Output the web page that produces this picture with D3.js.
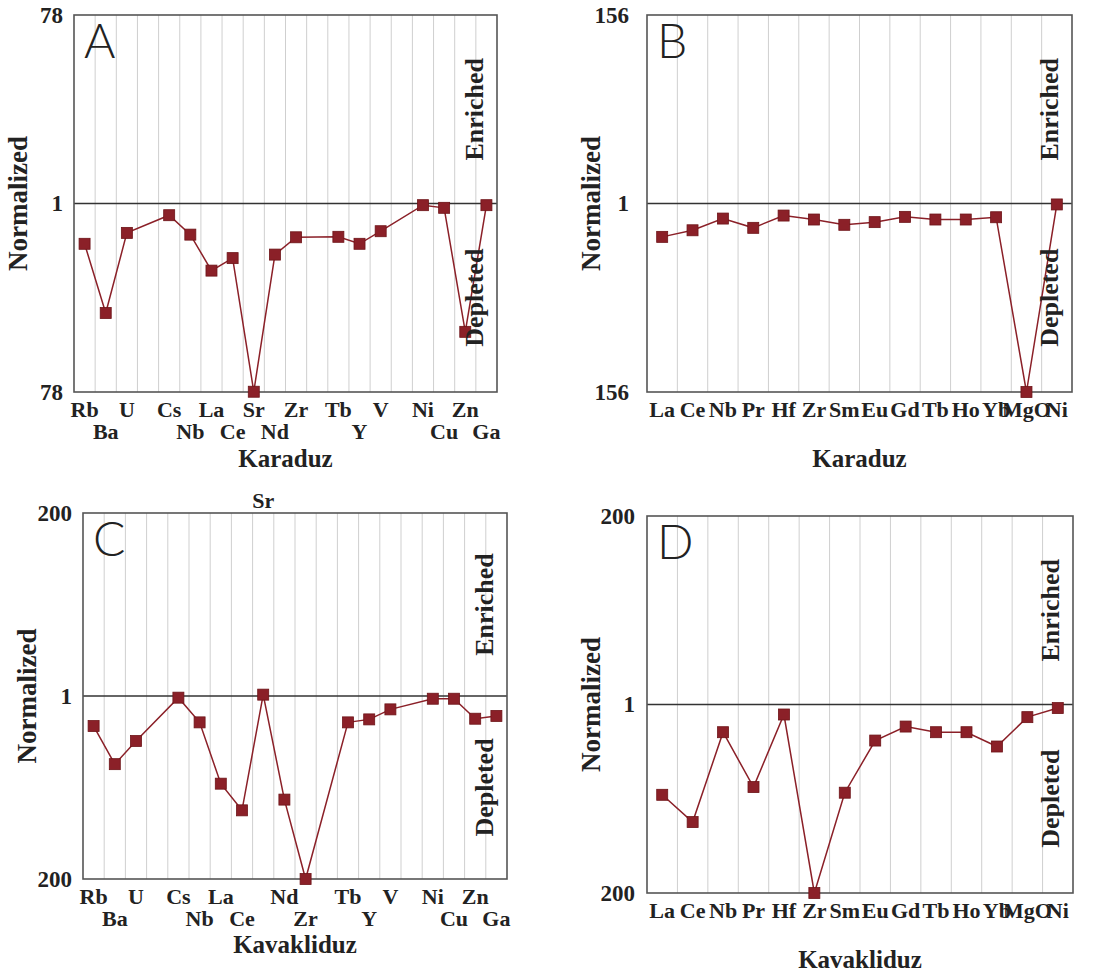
<!DOCTYPE html>
<html>
<head>
<meta charset="utf-8">
<script src="https://cdn.jsdelivr.net/npm/d3@7"></script>
<style>
  body { margin: 0; background: #fff; }
  svg text { font-family: "Liberation Serif", "Times New Roman", serif; font-weight: bold; fill: #222; }
</style>
</head>
<body>
<svg id="chart" width="1110" height="979"></svg>
<script>
'use strict';

// Trace element slots (gaps are empty grid columns)
const traceSlots = ['Rb', 'Ba', 'U', '_g1', 'Cs', 'Nb', 'La', 'Ce', 'Sr', 'Nd', 'Zr', '_g2', 'Tb', 'Y', 'V', '_g3', 'Ni', 'Cu', 'Zn', 'Ga'];
const traceElements = ['Rb', 'Ba', 'U', 'Cs', 'Nb', 'La', 'Ce', 'Sr', 'Nd', 'Zr', 'Tb', 'Y', 'V', 'Ni', 'Cu', 'Zn', 'Ga'];
const reeElements = ['La', 'Ce', 'Nb', 'Pr', 'Hf', 'Zr', 'Sm', 'Eu', 'Gd', 'Tb', 'Ho', 'Yb', 'MgO', 'Ni'];

// Normalized values
const karaduzTrace = [0.394, 0.0796, 0.507, 0.763, 0.487, 0.212, 0.283, 0.0129, 0.307, 0.458, 0.463, 0.394, 0.527, 0.962, 0.905, 0.0515, 0.962];
const karaduzRee = [0.409, 0.488, 0.668, 0.521, 0.724, 0.651, 0.565, 0.607, 0.699, 0.651, 0.651, 0.692, 0.00641, 0.975];
const kavaklidzTrace = [0.419, 0.139, 0.272, 0.953, 0.466, 0.079, 0.0365, 1.04, 0.0498, 0.005, 0.466, 0.508, 0.679, 0.924, 0.924, 0.518, 0.561];
const kavaklidzRee = [0.079, 0.0367, 0.459, 0.0982, 0.755, 0.005, 0.0838, 0.363, 0.538, 0.459, 0.459, 0.307, 0.701, 0.904];

// Axis limits (max enrichment = max depletion)
const limits = { A: 78, B: 156, C: 200, D: 200 };

const svg = d3.select('#chart');
const markColour = '#8b2028';

function drawPanel (p) {
  const g = svg.append('g');

  const x = d3.scaleBand().domain(p.slots).range([p.x0, p.x1]);
  const y = d3.scaleLog().domain([1 / p.max, p.max]).range([p.y1, p.y0]);

  // vertical grid lines between columns
  g.selectAll('line.grid')
    .data(p.slots.slice(1))
    .enter().append('line')
    .attr('x1', d => x(d)).attr('x2', d => x(d))
    .attr('y1', p.y0).attr('y2', p.y1)
    .attr('stroke', '#cfcfcf').attr('stroke-width', 1);

  // reference line at 1
  g.append('line')
    .attr('x1', p.x0).attr('x2', p.x1)
    .attr('y1', y(1)).attr('y2', y(1))
    .attr('stroke', '#333').attr('stroke-width', 1.6);

  // frame
  g.append('rect')
    .attr('x', p.x0).attr('y', p.y0)
    .attr('width', p.x1 - p.x0).attr('height', p.y1 - p.y0)
    .attr('fill', 'none').attr('stroke', '#555').attr('stroke-width', 1.6);

  // y axis: 78 / 1 / 78 style labels
  const yAxis = d3.axisLeft(y)
    .tickValues([1 / p.max, 1, p.max])
    .tickFormat(d => d === 1 ? '1' : String(p.max))
    .tickSize(0).tickPadding(p.tickPad);
  const ya = g.append('g').attr('transform', `translate(${p.x0},0)`).call(yAxis);
  ya.select('.domain').remove();
  ya.selectAll('text')
    .style('font-family', '"Liberation Serif", serif')
    .style('font-weight', 'bold').style('font-size', '23px').attr('fill', '#222');

  const pts = p.elements.map((e, i) => ({ key: p.slots[p.slotOf(i)], name: e, v: p.values[i], row: p.rowOf(i) }));
  const cx = d => x(d.key) + x.bandwidth() / 2;

  // element labels
  g.selectAll('text.el')
    .data(pts)
    .enter().append('text')
    .attr('x', cx)
    .attr('y', d => d.row < 0 ? p.y0 - 5 : p.y1 + 25 + d.row * 22)
    .attr('text-anchor', 'middle')
    .style('font-size', '22px')
    .text(d => d.name);

  // line and markers
  const line = d3.line().x(cx).y(d => y(d.v));
  g.append('path')
    .datum(pts)
    .attr('d', line)
    .attr('fill', 'none').attr('stroke', markColour).attr('stroke-width', 1.5);

  g.selectAll('rect.mk')
    .data(pts)
    .enter().append('rect')
    .attr('x', d => cx(d) - 5.5).attr('y', d => y(d.v) - 5.5)
    .attr('width', 11).attr('height', 11)
    .attr('fill', markColour).attr('stroke', '#6e1418').attr('stroke-width', 0.8);

  // titles
  g.append('text')
    .attr('x', (p.x0 + p.x1) / 2).attr('y', p.y1 + p.titleDy)
    .attr('text-anchor', 'middle').style('font-size', '25px')
    .text(p.title);

  g.append('text')
    .attr('transform', `translate(${p.x0 - 47},${(p.y0 + p.y1) / 2}) rotate(-90)`)
    .attr('text-anchor', 'middle').style('font-size', '27px')
    .text('Normalized');

  const h = p.y1 - p.y0;
  [['Enriched', 0.25], ['Depleted', 0.75]].forEach(([t, f]) => {
    g.append('text')
      .attr('transform', `translate(${p.x1 - 14},${p.y0 + h * f}) rotate(-90)`)
      .attr('text-anchor', 'middle').style('font-size', '26px')
      .text(t);
  });

  g.append('text')
    .attr('x', p.x0 + 10).attr('y', p.y0 + 43)
    .style('font-family', 'Lato, "DejaVu Sans", sans-serif')
    .style('font-weight', 300).style('font-size', '48px').attr('fill', '#111')
    .text(p.letter);
}

const traceSlotOf = i => traceSlots.indexOf(traceElements[i]);

drawPanel({
  letter: 'A', title: 'Karaduz', max: limits.A,
  x0: 74, x1: 497, y0: 15, y1: 392, tickPad: 11, titleDy: 75,
  slots: traceSlots, elements: traceElements, values: karaduzTrace,
  slotOf: traceSlotOf, rowOf: i => traceSlotOf(i) % 2
});

drawPanel({
  letter: 'B', title: 'Karaduz', max: limits.B,
  x0: 647, x1: 1072, y0: 15, y1: 392, tickPad: 18, titleDy: 75,
  slots: reeElements, elements: reeElements, values: karaduzRee,
  slotOf: i => i, rowOf: () => 0
});

// panel C: Sr label sits above the frame, Nd/Zr rows swapped
const rowsC = { Sr: -1, Nd: 0, Zr: 1 };
drawPanel({
  letter: 'C', title: 'Kavakliduz', max: limits.C,
  x0: 83, x1: 507, y0: 513, y1: 879, tickPad: 11, titleDy: 74,
  slots: traceSlots, elements: traceElements, values: kavaklidzTrace,
  slotOf: traceSlotOf,
  rowOf: i => (traceElements[i] in rowsC) ? rowsC[traceElements[i]] : traceSlotOf(i) % 2
});

drawPanel({
  letter: 'D', title: 'Kavakliduz', max: limits.D,
  x0: 647, x1: 1073, y0: 516, y1: 893, tickPad: 12, titleDy: 75,
  slots: reeElements, elements: reeElements, values: kavaklidzRee,
  slotOf: i => i, rowOf: () => 0
});
</script>
</body>
</html>
